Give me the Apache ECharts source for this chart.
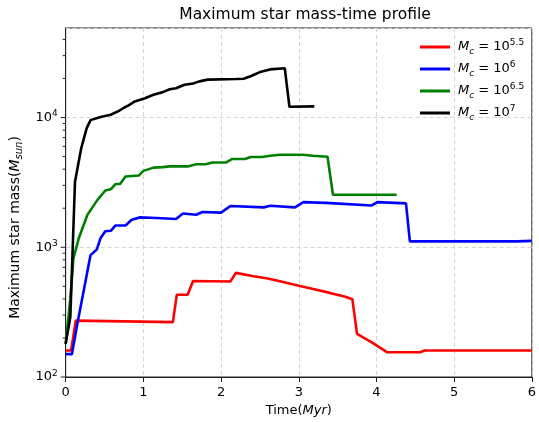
<!DOCTYPE html>
<html>
<head>
<meta charset="utf-8">
<script src="https://cdn.jsdelivr.net/npm/echarts@6/dist/echarts.min.js"></script>
<style>
html, body { margin: 0; padding: 0; background: #fff; }
#chart { width: 539px; height: 422px; }
</style>
</head>
<body>
<div id="chart"></div>
<script>
// values (time in Myr, mass in M_sun)
var seriesNames = ['M_c = 10^5.5', 'M_c = 10^6', 'M_c = 10^6.5', 'M_c = 10^7'];
var seriesColors = ['#ff0000', '#0000ff', '#008000', '#000000'];

var redTime = [0, 0.07, 0.13, 1.38, 1.43, 1.57, 1.64, 2.12, 2.19, 2.4, 2.6, 2.8, 3.0, 3.2, 3.4, 3.6, 3.69, 3.75, 3.94, 4.14, 4.56, 4.62, 6.0];
var redMass = [160, 160, 272, 265, 430, 430, 550, 545, 635, 600, 575, 540, 505, 475, 445, 415, 398, 215, 185, 155, 155, 160, 160];

var blueTime = [0, 0.08, 0.15, 0.24, 0.32, 0.40, 0.45, 0.51, 0.58, 0.64, 0.77, 0.85, 0.96, 1.17, 1.42, 1.51, 1.68, 1.76, 2.0, 2.12, 2.55, 2.63, 2.95, 3.06, 3.35, 3.94, 4.01, 4.38, 4.43, 5.81, 6.0];
var blueMass = [150, 150, 256, 490, 870, 960, 1180, 1330, 1340, 1470, 1470, 1630, 1700, 1680, 1650, 1820, 1780, 1870, 1850, 2080, 2030, 2090, 2030, 2230, 2200, 2100, 2230, 2180, 1110, 1110, 1120];

var greenTime = [0, 0.06, 0.1, 0.17, 0.28, 0.41, 0.51, 0.58, 0.64, 0.70, 0.77, 0.94, 1.0, 1.13, 1.25, 1.34, 1.57, 1.68, 1.80, 1.89, 2.06, 2.14, 2.31, 2.38, 2.53, 2.63, 2.76, 3.05, 3.18, 3.37, 3.44, 4.26];
var greenMass = [180, 400, 820, 1180, 1780, 2320, 2740, 2800, 3070, 3070, 3510, 3570, 3880, 4110, 4150, 4200, 4200, 4370, 4370, 4500, 4500, 4790, 4790, 4970, 4970, 5080, 5170, 5170, 5080, 4990, 2540, 2540];

var blackTime = [0, 0.06, 0.12, 0.2, 0.27, 0.32, 0.45, 0.58, 0.68, 0.75, 0.81, 0.89, 1.02, 1.13, 1.25, 1.34, 1.42, 1.53, 1.64, 1.72, 1.83, 2.19, 2.29, 2.38, 2.5, 2.63, 2.82, 2.88, 3.2];
var blackMass = [180, 290, 3200, 5800, 8250, 9550, 10100, 10500, 11200, 11900, 12400, 13300, 14100, 15000, 15700, 16500, 16800, 17900, 18300, 19000, 19600, 19800, 19900, 20800, 22400, 23500, 24000, 12100, 12200];

var xMin = 0, xMax = 6;
var yMin = 100, yMax = 49000;
var yMajorTicks = [100, 1000, 10000];
var yMinorTicks = [200, 300, 400, 500, 600, 700, 800, 900,
    2000, 3000, 4000, 5000, 6000, 7000, 8000, 9000,
    20000, 30000, 40000];

function pairs(t, m) {
    return t.map(function (v, i) { return [v, m[i]]; });
}

var font = 'DejaVu Sans';
var allData = [pairs(redTime, redMass), pairs(blueTime, blueMass), pairs(greenTime, greenMass), pairs(blackTime, blackMass)];

// y tick marks (major 5px, minor 3px), placed through the log axis
var tickData = yMajorTicks.map(function (v) { return [xMin, v, 5]; })
    .concat(yMinorTicks.map(function (v) { return [xMin, v, 3]; }));

var lineSeries = seriesNames.map(function (name, i) {
    return {
        name: name,
        type: 'line',
        data: allData[i],
        showSymbol: false,
        symbol: 'none',
        lineStyle: { color: seriesColors[i], width: 2.6 },
        itemStyle: { color: seriesColors[i] }
    };
});

var mychart = echarts.init(document.getElementById('chart'));
var option = {
    animation: false,
    textStyle: { fontFamily: font, color: '#000' },
    title: {
        text: 'Maximum star mass-time profile',
        left: 300,
        textAlign: 'center',
        top: 2,
        textStyle: { fontFamily: font, fontSize: 15.5, fontWeight: 'normal', color: '#000' }
    },
    legend: {
        data: seriesNames,
        orient: 'vertical',
        left: 420,
        top: 38,
        padding: 0,
        itemWidth: 30,
        itemHeight: 3,
        itemGap: 4,
        icon: 'rect',
        formatter: function (name) {
            var e = name.split('^')[1];
            return '{m|M}{s|c}{t| = 10}{p|' + e + '}';
        },
        textStyle: {
            fontFamily: font,
            color: '#000',
            padding: [0, 0, 0, 3],
            rich: {
                m: { fontFamily: font, fontSize: 13, fontStyle: 'italic', lineHeight: 18 },
                s: { fontFamily: font, fontSize: 9, fontStyle: 'italic', lineHeight: 18, verticalAlign: 'bottom' },
                t: { fontFamily: font, fontSize: 13, lineHeight: 18 },
                p: { fontFamily: font, fontSize: 9, lineHeight: 18, verticalAlign: 'top' }
            }
        }
    },
    grid: {
        left: 63,
        right: 4,
        top: 28,
        bottom: 42,
        show: true,
        borderColor: '#222',
        borderWidth: 1,
        backgroundColor: 'transparent'
    },
    xAxis: {
        type: 'value',
        min: xMin,
        max: xMax,
        interval: 1,
        name: 'Time({i|Myr})',
        nameLocation: 'middle',
        nameGap: 27,
        nameTextStyle: {
            fontFamily: font, fontSize: 13, color: '#000',
            rich: { i: { fontFamily: font, fontSize: 13, fontStyle: 'italic' } }
        },
        axisLine: { show: true, lineStyle: { color: '#222', width: 1 } },
        axisTick: { show: true, length: 5, lineStyle: { color: '#222' } },
        axisLabel: { fontFamily: font, fontSize: 13, color: '#000', margin: 9 },
        splitLine: { show: true, lineStyle: { color: '#d4d4d4', type: [4, 3], width: 1 } }
    },
    yAxis: {
        type: 'log',
        logBase: 10,
        min: yMin,
        max: yMax,
        name: 'Maximum star mass({i|M}{s|sun})',
        nameLocation: 'middle',
        nameRotate: 90,
        nameGap: 37,
        nameTextStyle: {
            fontFamily: font, fontSize: 14, color: '#000',
            padding: [0, 50, 0, 0],
            rich: {
                i: { fontFamily: font, fontSize: 14, fontStyle: 'italic', lineHeight: 19 },
                s: { fontFamily: font, fontSize: 10, fontStyle: 'italic', lineHeight: 19, verticalAlign: 'bottom' }
            }
        },
        axisLine: { show: true, lineStyle: { color: '#222', width: 1 } },
        axisTick: { show: false },
        axisLabel: {
            fontFamily: font, fontSize: 13, color: '#000', margin: 8,
            formatter: function (v) {
                var e = Math.round(Math.log10(v));
                if (Math.abs(Math.pow(10, e) - v) > 1e-6 * v) return '';
                return '10{p|' + e + '}';
            },
            rich: { p: { fontFamily: font, fontSize: 9, verticalAlign: 'top', lineHeight: 16 } }
        },
        splitLine: { show: true, lineStyle: { color: '#d4d4d4', type: [4, 3], width: 1 } }
    },
    series: lineSeries.concat([{
        type: 'custom',
        silent: true,
        clip: false,
        data: tickData,
        renderItem: function (params, api) {
            var p = api.coord([api.value(0), api.value(1)]);
            var len = api.value(2);
            return {
                type: 'line',
                shape: { x1: p[0] - len, y1: p[1], x2: p[0], y2: p[1] },
                style: { stroke: '#222', lineWidth: 1 }
            };
        }
    }])
};
mychart.setOption(option);
</script>
</body>
</html>
